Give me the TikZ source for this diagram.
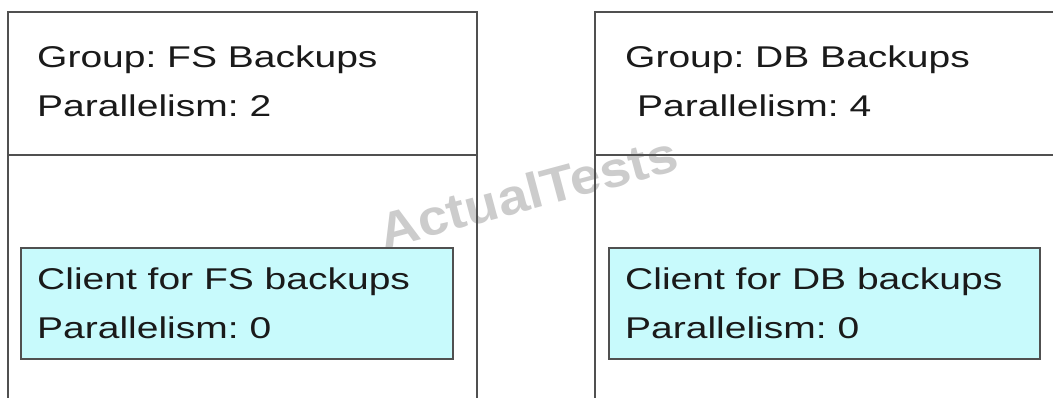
\documentclass[tikz,border=0pt]{standalone}
\usepackage{fontspec}
\setmainfont{Liberation Sans}
\newfontfamily\stretchedfont[FakeStretch=1.3]{Liberation Sans}
\newfontfamily\wmfont[FakeStretch=1.1]{Liberation Sans Bold}
\definecolor{linegray}{HTML}{505050}
\definecolor{clientcyan}{HTML}{C8FAFC}
\definecolor{textdark}{HTML}{1A1A1A}
\definecolor{wmgray}{HTML}{CCCCCC}
\tikzset{
  frameline/.style={draw=linegray, line width=1.8pt},
  clientbox/.style={draw=linegray, line width=1.6pt, fill=clientcyan, inner sep=0pt, anchor=north west},
  label/.style={anchor=base west, inner sep=0pt, text=textdark, font=\stretchedfont\fontsize{30}{36}\selectfont\frenchspacing},
  watermark/.style={text=wmgray, inner sep=0pt, rotate=15, font=\wmfont\fontsize{50}{60}\selectfont}
}
\begin{document}
\frenchspacing
\begin{tikzpicture}[x=1pt,y=-1pt]
\useasboundingbox (0,0) rectangle (1053,398);
\fill[white] (0,0) rectangle (1053,398);
% watermark
\node[watermark] (wm) at (528,192) {ActualTests};
% left group frame
\coordinate (lTL) at (8,12);
\coordinate (lTR) at (477,12);
\coordinate (lBL) at (8,398);
\coordinate (lBR) at (477,398);
\coordinate (lDL) at (8,155);
\coordinate (lDR) at (477,155);
\draw[frameline] (lBL) -- (lTL) -- (lTR) -- (lBR);
\draw[frameline] (lDL) -- (lDR);
% right group frame
\coordinate (rTL) at (595,12);
\coordinate (rTR) at (1060,12);
\coordinate (rBL) at (595,398);
\coordinate (rDL) at (595,155);
\coordinate (rDR) at (1060,155);
\draw[frameline] (rBL) -- (rTL) -- (rTR);
\draw[frameline] (rDL) -- (rDR);
% group labels
\node[label] (gA1) at (37,68) {Group: FS Backups};
\node[label] (gA2) at (37,117) {Parallelism: 2};
\node[label] (gB1) at (625,68) {Group: DB Backups};
\node[label] (gB2) at (637,117) {Parallelism: 4};
% client boxes
\node[clientbox, minimum width=432pt, minimum height=111pt] (cA) at (20,247) {};
\node[clientbox, minimum width=431pt, minimum height=111pt] (cB) at (608,247) {};
\node[label] (cA1) at (37,290) {Client for FS backups};
\node[label] (cA2) at (37,338) {Parallelism: 0};
\node[label] (cB1) at (625,290) {Client for DB backups};
\node[label] (cB2) at (625,338) {Parallelism: 0};
\end{tikzpicture}
\end{document}
